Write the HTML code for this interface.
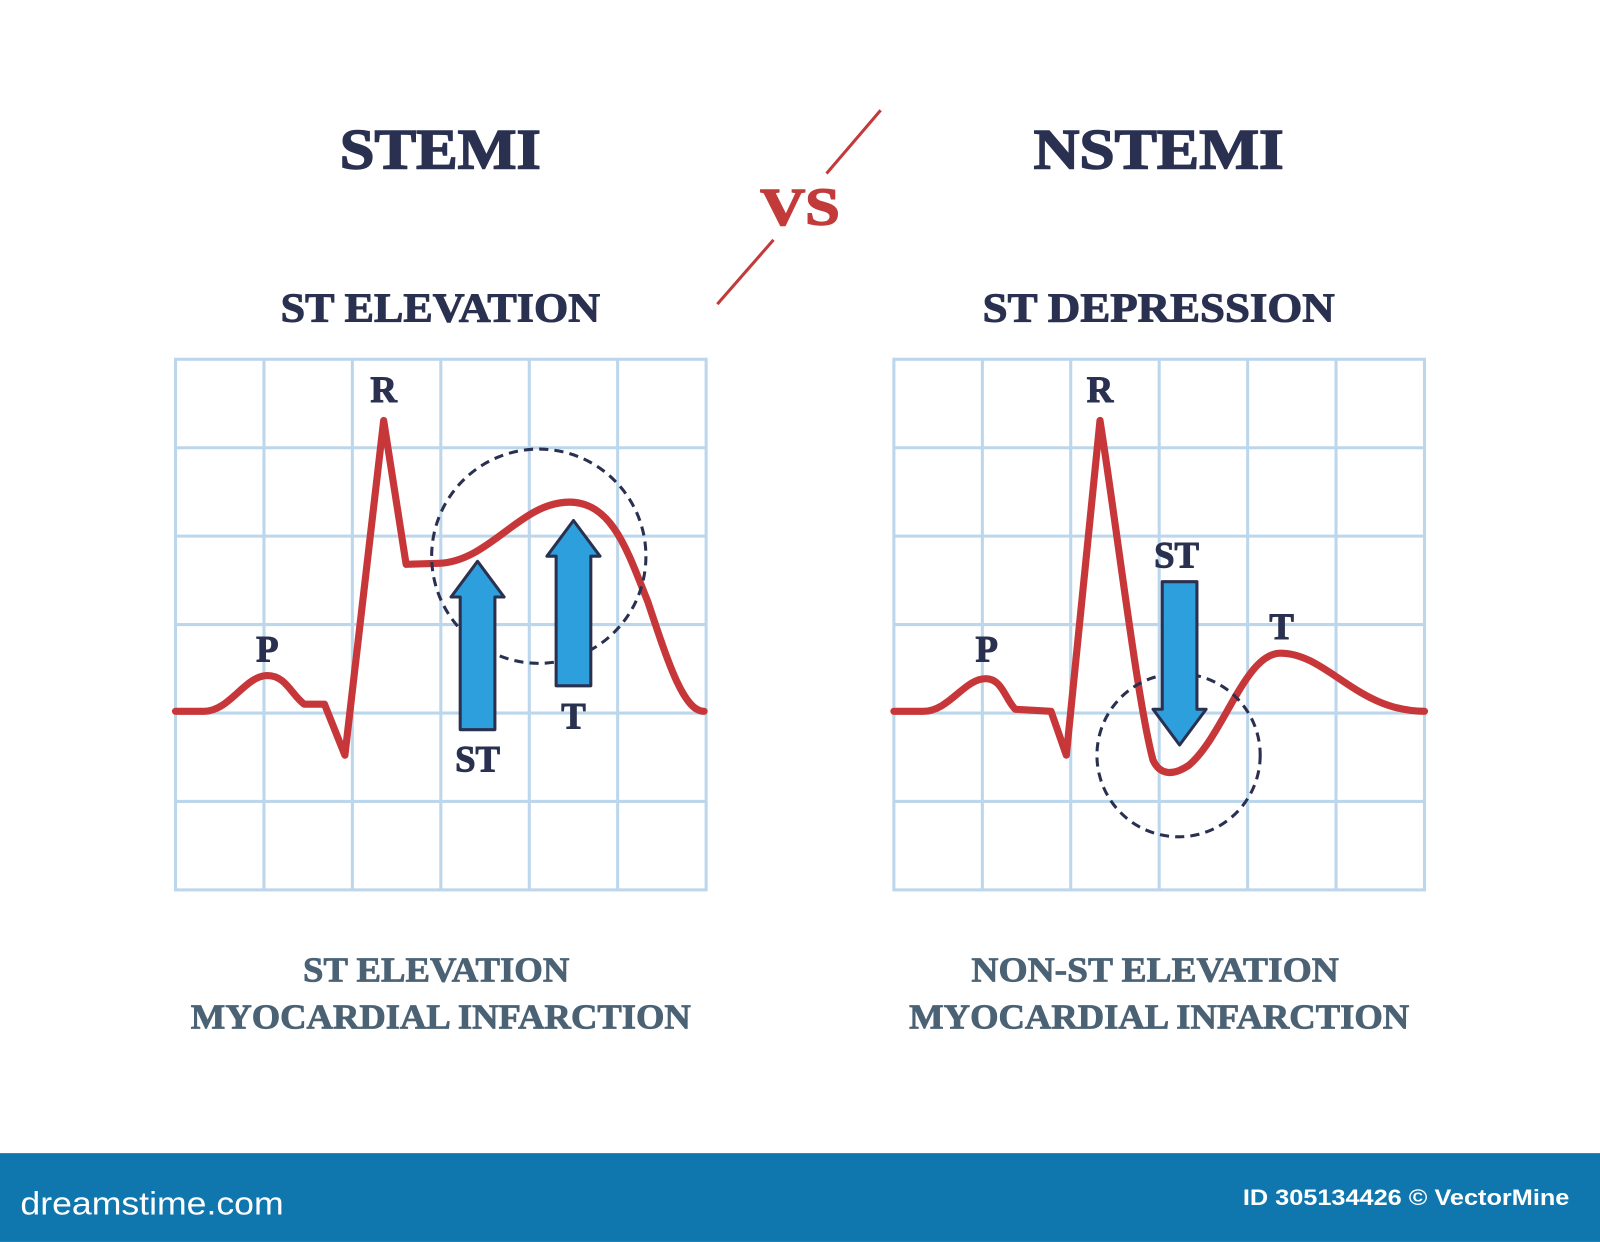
<!DOCTYPE html>
<html><head><meta charset="utf-8"><style>
html,body{margin:0;padding:0;background:#fff;}
svg{display:block;}
text{font-family:"Liberation Serif",serif;font-weight:bold;}
</style></head><body>
<svg width="1600" height="1242" viewBox="0 0 1568 1217" xmlns="http://www.w3.org/2000/svg">
<rect width="1568" height="1217" fill="#fff"/>
<!-- titles -->
<text x="333" y="165" font-size="56" fill="#2a3150" textLength="197" lengthAdjust="spacingAndGlyphs" stroke="#2a3150" stroke-width="1.5">STEMI</text>
<text x="1013" y="165" font-size="56" fill="#2a3150" textLength="245" lengthAdjust="spacingAndGlyphs" stroke="#2a3150" stroke-width="1.5">NSTEMI</text>
<text x="745" y="220" font-size="52" fill="#c23a3a" textLength="78" lengthAdjust="spacingAndGlyphs" stroke="#c23a3a" stroke-width="1.5">VS</text>
<line x1="863" y1="108" x2="810" y2="170" stroke="#c23a3a" stroke-width="3"/>
<line x1="758" y1="235" x2="703" y2="298" stroke="#c23a3a" stroke-width="3"/>
<text x="275" y="315" font-size="40" fill="#2a3150" textLength="313" lengthAdjust="spacingAndGlyphs" stroke="#2a3150" stroke-width="1">ST ELEVATION</text>
<text x="963" y="315" font-size="40" fill="#2a3150" textLength="345" lengthAdjust="spacingAndGlyphs" stroke="#2a3150" stroke-width="1">ST DEPRESSION</text>
<!-- grids -->
<g stroke="#bcd6ec" stroke-width="3" fill="none">
<rect x="172" y="352" width="520" height="520"/>
<path d="M258.7 352V872M345.3 352V872M432 352V872M518.7 352V872M605.3 352V872M172 438.7H692M172 525.3H692M172 612H692M172 698.7H692M172 785.3H692"/>
<rect x="876" y="352" width="520" height="520"/>
<path d="M962.7 352V872M1049.3 352V872M1136 352V872M1222.7 352V872M1309.3 352V872M876 438.7H1396M876 525.3H1396M876 612H1396M876 698.7H1396M876 785.3H1396"/>
</g>
<!-- left ECG -->
<path d="M172 697 L200 697 C225 697 240 662 262 662 C280 662 285 680 298 690 L318 690 L338 740 L376 412 L398 553 L430 552 C480 550 510 492 558 492 C600 492 615 540 635 590 C655 650 670 697 690 697" fill="none" stroke="#c7373a" stroke-width="7" stroke-linecap="round" stroke-linejoin="round"/>
<circle cx="528" cy="545" r="105" fill="none" stroke="#2a3150" stroke-width="3" stroke-dasharray="9 6"/>
<path d="M451 715 L451 585 L442 585 L468 550 L494 585 L485 585 L485 715 Z" fill="#2d9fdc" stroke="#2a3150" stroke-width="3" stroke-linejoin="round"/>
<path d="M545 672 L545 545 L536 545 L562 510 L588 545 L579 545 L579 672 Z" fill="#2d9fdc" stroke="#2a3150" stroke-width="3" stroke-linejoin="round"/>
<g font-size="36" fill="#2a3150" text-anchor="middle" stroke="#2a3150" stroke-width="1">
<text x="376" y="394">R</text><text x="262" y="648">P</text><text x="468" y="756">ST</text><text x="562" y="714">T</text>
</g>
<!-- right ECG -->
<path d="M876 697 L905 697 C930 697 945 665 966 665 C982 665 985 685 995 695 L1030 697 L1045 740 L1078 412 C1095 520 1115 690 1130 745 C1137 760 1150 760 1165 750 C1200 720 1220 640 1255 640 C1300 640 1330 697 1396 697" fill="none" stroke="#c7373a" stroke-width="7" stroke-linecap="round" stroke-linejoin="round"/>
<circle cx="1155" cy="740" r="80" fill="none" stroke="#2a3150" stroke-width="3" stroke-dasharray="9 6"/>
<path d="M1139 570 L1173 570 L1173 695 L1182 695 L1156 730 L1130 695 L1139 695 Z" fill="#2d9fdc" stroke="#2a3150" stroke-width="3" stroke-linejoin="round"/>
<g font-size="36" fill="#2a3150" text-anchor="middle" stroke="#2a3150" stroke-width="1">
<text x="1078" y="394">R</text><text x="967" y="648">P</text><text x="1153" y="556">ST</text><text x="1256" y="626">T</text>
</g>
<!-- bottom labels -->
<g font-size="34" fill="#4b6275" stroke="#4b6275" stroke-width="0.8">
<text x="297" y="962" textLength="261" lengthAdjust="spacingAndGlyphs">ST ELEVATION</text>
<text x="187" y="1008" textLength="490" lengthAdjust="spacingAndGlyphs">MYOCARDIAL INFARCTION</text>
<text x="952" y="962" textLength="360" lengthAdjust="spacingAndGlyphs">NON-ST ELEVATION</text>
<text x="891" y="1008" textLength="490" lengthAdjust="spacingAndGlyphs">MYOCARDIAL INFARCTION</text>
</g>
<!-- footer bar -->
<rect x="0" y="1130" width="1568" height="87" fill="#1077ae"/>
<text x="20" y="1190" font-size="32" fill="#fff" textLength="258" lengthAdjust="spacingAndGlyphs" style="font-family:'Liberation Sans',sans-serif;font-weight:normal">dreamstime.com</text>
<text x="1218" y="1181" font-size="22" fill="#fff" textLength="320" lengthAdjust="spacingAndGlyphs" style="font-family:'Liberation Sans',sans-serif;font-weight:bold">ID 305134426 © VectorMine</text>
</svg>
</body></html>
